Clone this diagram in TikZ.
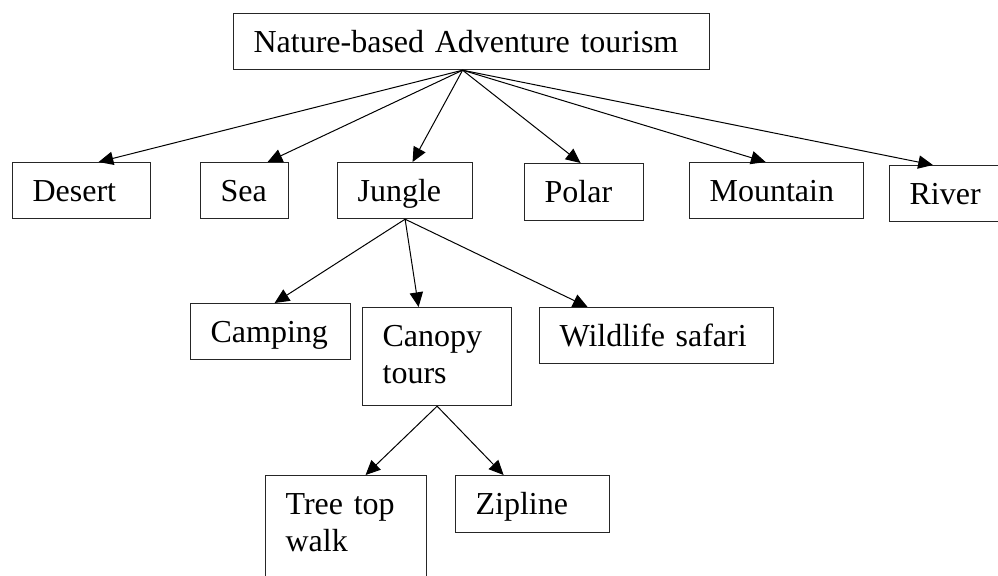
\documentclass[tikz,border=0pt]{standalone}
\usepackage{fontspec}
\setmainfont{Liberation Serif}
\usetikzlibrary{arrows.meta}
\begin{document}
\begin{tikzpicture}[x=0.75pt,y=-0.75pt,
box/.style={draw=black!85,line width=.9pt,anchor=north west,align=left,inner xsep=15pt,inner ysep=0pt,
text height=29.25pt,text depth=12.75pt,font=\fontsize{24}{27.75}\selectfont},
arr/.style={-{Triangle[length=11pt,width=10pt]},line width=.75pt}]
\useasboundingbox (0,0) rectangle (998,575);
\node[box,text width=327pt] (root) at (233,13){Nature-based Adventure tourism};
\node[box,text width=73.5pt] (desert) at (12,162){Desert};
\node[box,text width=36pt] (sea) at (200,162){Sea};
\node[box,text width=71.25pt] (jungle) at (337,162){Jungle};
\node[box,text width=59.25pt,text depth=13.5pt] (polar) at (524,163){Polar};
\node[box,text width=100.5pt] (mountain) at (689,162){Mountain};
\node[box,text width=80pt] (river) at (889,165){River};
\node[box,text width=90pt] (camping) at (190,303){Camping};
\node[box,text width=81.75pt,text depth=44.25pt] (canopy) at (362,307){Canopy\\tours};
\node[box,text width=145.5pt] (wildlife) at (539,307){Wildlife safari};
\node[box,text width=90.75pt,text depth=64.5pt] (treetop) at (265,475){Tree top\\walk};
\node[box,text width=85.5pt,text depth=13.5pt] (zipline) at (455,475){Zipline};
\coordinate (hub) at ([xshift=-6.75pt]root.south);
\draw[arr] (hub) -- ([xshift=12.75pt]desert.north);
\draw[arr] (hub) -- ([xshift=17.25pt]sea.north);
\draw[arr] (hub) -- ([xshift=5.6pt]jungle.north);
\draw[arr] (hub) -- ([xshift=-2.6pt]polar.north);
\draw[arr] (hub) -- ([xshift=-8.25pt]mountain.north);
\draw[arr] (hub) -- ([xshift=-22.5pt]river.north);
\draw[arr] (jungle.south) -- ([xshift=3pt]camping.north);
\draw[arr] (jungle.south) -- ([xshift=-13.9pt]canopy.north);
\draw[arr] (jungle.south) -- ([xshift=-51.75pt]wildlife.north);
\draw[arr] (canopy.south) -- ([xshift=14.6pt]treetop.north);
\draw[arr] (canopy.south) -- ([xshift=-21.75pt]zipline.north);
\end{tikzpicture}
\end{document}
